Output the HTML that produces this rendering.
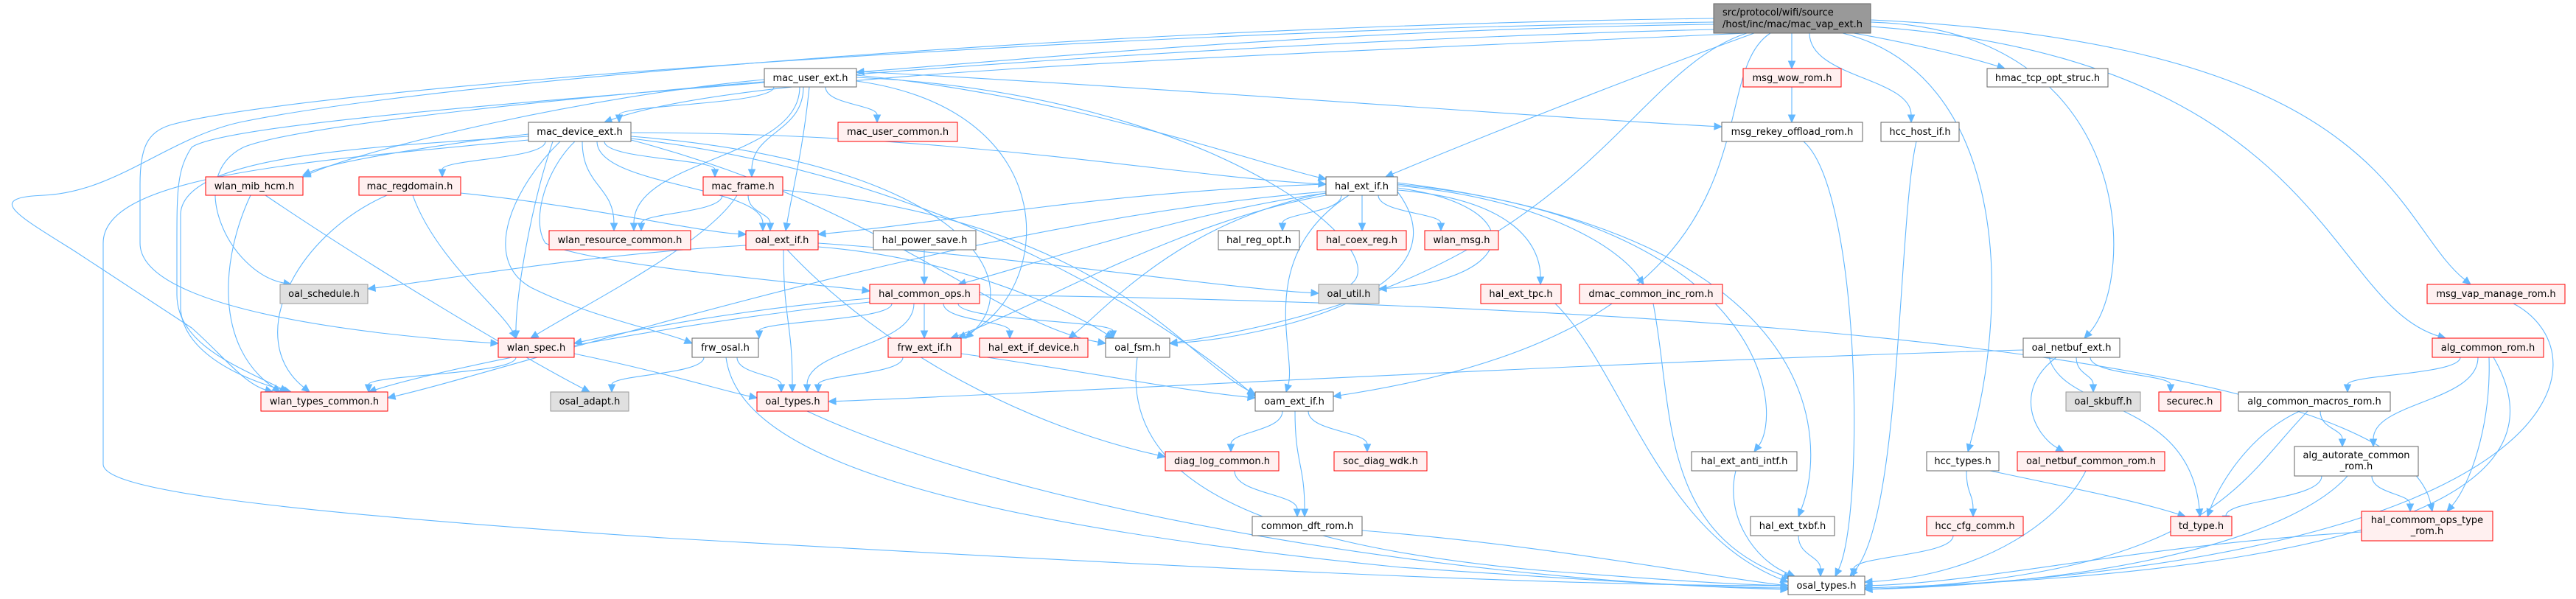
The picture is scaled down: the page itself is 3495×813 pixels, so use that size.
<!DOCTYPE html>
<html><head><meta charset="utf-8">
<style>
html,body{margin:0;padding:0;background:#fff;}
svg{display:block;}
text{font-family:"DejaVu Sans","Liberation Sans",sans-serif;font-size:13px;fill:#000;}
</style></head>
<body>
<svg id="s" width="3495" height="813" viewBox="0 0 3495 813" xmlns="http://www.w3.org/2000/svg">
<g id="edges" fill="none" stroke="#63b8ff" stroke-width="1.1"></g>
<g id="arrows" fill="#63b8ff" stroke="#63b8ff"></g>
<g id="nodes">
<rect x="2325" y="5" width="213" height="40" fill="#999" stroke="#666"/>
<text x="2337" y="21">src/protocol/wifi/source</text>
<text x="2337" y="37">/host/inc/mac/mac_vap_ext.h</text>

<rect x="1037" y="93" width="125" height="25" fill="#fff" stroke="#666"/><text x="1099.5" y="110" text-anchor="middle">mac_user_ext.h</text>
<rect x="2365" y="93" width="133" height="25" fill="#fff0f0" stroke="#f00"/><text x="2431.5" y="110" text-anchor="middle">msg_wow_rom.h</text>
<rect x="2696" y="93" width="164" height="25" fill="#fff" stroke="#666"/><text x="2778" y="110" text-anchor="middle">hmac_tcp_opt_struc.h</text>

<rect x="717" y="166" width="139" height="26" fill="#fff" stroke="#666"/><text x="786.5" y="183" text-anchor="middle">mac_device_ext.h</text>
<rect x="1137" y="166" width="162" height="26" fill="#fff0f0" stroke="#f00"/><text x="1218" y="183" text-anchor="middle">mac_user_common.h</text>
<rect x="2336" y="166" width="191" height="26" fill="#fff" stroke="#666"/><text x="2431.5" y="183" text-anchor="middle">msg_rekey_offload_rom.h</text>
<rect x="2552" y="166" width="106" height="26" fill="#fff" stroke="#666"/><text x="2605" y="183" text-anchor="middle">hcc_host_if.h</text>

<rect x="279" y="240" width="132" height="25" fill="#fff0f0" stroke="#f00"/><text x="345" y="257" text-anchor="middle">wlan_mib_hcm.h</text>
<rect x="487" y="240" width="138" height="25" fill="#fff0f0" stroke="#f00"/><text x="556" y="257" text-anchor="middle">mac_regdomain.h</text>
<rect x="954" y="240" width="108" height="25" fill="#fff0f0" stroke="#f00"/><text x="1008" y="257" text-anchor="middle">mac_frame.h</text>
<rect x="1799" y="240" width="97" height="25" fill="#fff" stroke="#666"/><text x="1847.5" y="257" text-anchor="middle">hal_ext_if.h</text>

<rect x="745" y="313" width="192" height="26" fill="#fff0f0" stroke="#f00"/><text x="841" y="330" text-anchor="middle">wlan_resource_common.h</text>
<rect x="1012" y="313" width="98" height="26" fill="#fff0f0" stroke="#f00"/><text x="1061" y="330" text-anchor="middle">oal_ext_if.h</text>
<rect x="1185" y="313" width="139" height="26" fill="#fff" stroke="#666"/><text x="1254.5" y="330" text-anchor="middle">hal_power_save.h</text>
<rect x="1653" y="313" width="110" height="26" fill="#fff" stroke="#666"/><text x="1708" y="330" text-anchor="middle">hal_reg_opt.h</text>
<rect x="1787" y="313" width="121" height="26" fill="#fff0f0" stroke="#f00"/><text x="1847.5" y="330" text-anchor="middle">hal_coex_reg.h</text>
<rect x="1933" y="313" width="100" height="26" fill="#fff0f0" stroke="#f00"/><text x="1983" y="330" text-anchor="middle">wlan_msg.h</text>

<rect x="380" y="386" width="119" height="26" fill="#e0e0e0" stroke="#999"/><text x="439.5" y="403" text-anchor="middle">oal_schedule.h</text>
<rect x="1180" y="386" width="149" height="26" fill="#fff0f0" stroke="#f00"/><text x="1254.5" y="403" text-anchor="middle">hal_common_ops.h</text>
<rect x="1789" y="386" width="82" height="26" fill="#e0e0e0" stroke="#999"/><text x="1830" y="403" text-anchor="middle">oal_util.h</text>
<rect x="2009" y="386" width="109" height="26" fill="#fff0f0" stroke="#f00"/><text x="2063.5" y="403" text-anchor="middle">hal_ext_tpc.h</text>
<rect x="2143" y="386" width="194" height="26" fill="#fff0f0" stroke="#f00"/><text x="2240" y="403" text-anchor="middle">dmac_common_inc_rom.h</text>
<rect x="3293" y="386" width="187" height="26" fill="#fff0f0" stroke="#f00"/><text x="3386.5" y="403" text-anchor="middle">msg_vap_manage_rom.h</text>

<rect x="676" y="459" width="103" height="26" fill="#fff0f0" stroke="#f00"/><text x="727.5" y="476" text-anchor="middle">wlan_spec.h</text>
<rect x="939" y="459" width="90" height="26" fill="#fff" stroke="#666"/><text x="984" y="476" text-anchor="middle">frw_osal.h</text>
<rect x="1205" y="459" width="99" height="26" fill="#fff0f0" stroke="#f00"/><text x="1254.5" y="476" text-anchor="middle">frw_ext_if.h</text>
<rect x="1329" y="459" width="147" height="26" fill="#fff0f0" stroke="#f00"/><text x="1402.5" y="476" text-anchor="middle">hal_ext_if_device.h</text>
<rect x="1500" y="459" width="87" height="26" fill="#fff" stroke="#666"/><text x="1543.5" y="476" text-anchor="middle">oal_fsm.h</text>
<rect x="2745" y="459" width="131" height="26" fill="#fff" stroke="#666"/><text x="2810.5" y="476" text-anchor="middle">oal_netbuf_ext.h</text>
<rect x="3300" y="459" width="151" height="26" fill="#fff0f0" stroke="#f00"/><text x="3375.5" y="476" text-anchor="middle">alg_common_rom.h</text>

<rect x="354" y="532" width="172" height="26" fill="#fff0f0" stroke="#f00"/><text x="440" y="549" text-anchor="middle">wlan_types_common.h</text>
<rect x="747" y="532" width="106" height="26" fill="#e0e0e0" stroke="#999"/><text x="800" y="549" text-anchor="middle">osal_adapt.h</text>
<rect x="1027" y="532" width="97" height="26" fill="#fff0f0" stroke="#f00"/><text x="1075.5" y="549" text-anchor="middle">oal_types.h</text>
<rect x="1703" y="532" width="106" height="26" fill="#fff" stroke="#666"/><text x="1756" y="549" text-anchor="middle">oam_ext_if.h</text>
<rect x="2803" y="532" width="101" height="26" fill="#e0e0e0" stroke="#999"/><text x="2853.5" y="549" text-anchor="middle">oal_skbuff.h</text>
<rect x="2929" y="532" width="84" height="26" fill="#fff0f0" stroke="#f00"/><text x="2971" y="549" text-anchor="middle">securec.h</text>
<rect x="3037" y="532" width="206" height="26" fill="#fff" stroke="#666"/><text x="3140" y="549" text-anchor="middle">alg_common_macros_rom.h</text>

<rect x="1581" y="613" width="154" height="26" fill="#fff0f0" stroke="#f00"/><text x="1658" y="630" text-anchor="middle">diag_log_common.h</text>
<rect x="1810" y="613" width="126" height="26" fill="#fff0f0" stroke="#f00"/><text x="1873" y="630" text-anchor="middle">soc_diag_wdk.h</text>
<rect x="2295" y="613" width="143" height="26" fill="#fff" stroke="#666"/><text x="2366.5" y="630" text-anchor="middle">hal_ext_anti_intf.h</text>
<rect x="2614" y="613" width="98" height="26" fill="#fff" stroke="#666"/><text x="2663" y="630" text-anchor="middle">hcc_types.h</text>
<rect x="2737" y="613" width="200" height="26" fill="#fff0f0" stroke="#f00"/><text x="2837" y="630" text-anchor="middle">oal_netbuf_common_rom.h</text>
<rect x="3113" y="606" width="168" height="40" fill="#fff" stroke="#666"/><text x="3197" y="622" text-anchor="middle">alg_autorate_common</text><text x="3197" y="637" text-anchor="middle">_rom.h</text>

<rect x="1699" y="701" width="149" height="26" fill="#fff" stroke="#666"/><text x="1773.5" y="718" text-anchor="middle">common_dft_rom.h</text>
<rect x="2375" y="701" width="114" height="26" fill="#fff" stroke="#666"/><text x="2432" y="718" text-anchor="middle">hal_ext_txbf.h</text>
<rect x="2614" y="701" width="131" height="26" fill="#fff0f0" stroke="#f00"/><text x="2679.5" y="718" text-anchor="middle">hcc_cfg_comm.h</text>
<rect x="2945" y="701" width="83" height="26" fill="#fff0f0" stroke="#f00"/><text x="2986.5" y="718" text-anchor="middle">td_type.h</text>
<rect x="3204" y="694" width="178" height="40" fill="#fff0f0" stroke="#f00"/><text x="3293" y="710" text-anchor="middle">hal_commom_ops_type</text><text x="3293" y="725" text-anchor="middle">_rom.h</text>

<rect x="2426" y="782" width="104" height="25" fill="#fff" stroke="#666"/><text x="2478" y="799" text-anchor="middle">osal_types.h</text>
</g>
</svg>
<script>
var NS="http://www.w3.org/2000/svg",EG=document.getElementById("edges"),AG=document.getElementById("arrows");
function arrow(x,y,fx,fy){var dx=x-fx,dy=y-fy,l=Math.hypot(dx,dy)||1;dx/=l;dy/=l;var L=10,W=4.5;
var bx=x-dx*L,by=y-dy*L;var p=document.createElementNS(NS,"polygon");
p.setAttribute("points",x+","+y+" "+(bx-dy*W)+","+(by+dx*W)+" "+(bx+dy*W)+","+(by-dx*W));AG.appendChild(p);return [bx,by];}
function P(d,x,y,fx,fy){var b=arrow(x,y,fx,fy);var p=document.createElementNS(NS,"path");p.setAttribute("d",d+" "+b[0]+","+b[1]);EG.appendChild(p);}
function e(x1,y1,x2,y2,c){var c1x,c1y,c2x,c2y;if(c){c1x=c[0];c1y=c[1];c2x=c[2];c2y=c[3];}else{var m=(y1+y2)/2;c1x=x1;c1y=m;c2x=x2;c2y=m;}
var dx=x2-c2x,dy=y2-c2y,l=Math.hypot(dx,dy)||1;var ex=x2-dx/l*10,ey=y2-dy/l*10;
var p=document.createElementNS(NS,"path");p.setAttribute("d","M"+x1+","+y1+" C"+c1x+","+c1y+" "+c2x+","+c2y+" "+ex+","+ey);EG.appendChild(p);arrow(x2,y2,c2x,c2y);}
// mac_vap_ext
e(2325,33,1162,98,[1800,40,1400,80]);
e(2370,45,820,166,[1600,80,1000,100]);
e(2431,45,2431,93);
e(2455,45,2593,166);
e(2515,45,2720,93,[2600,60,2680,80]);
e(2500,45,2670,613,[2720,100,2730,400]);
e(2538,30,2828,459,[2900,40,2900,380]);
e(2538,36,3318,459,[3155,80,3155,410]);
e(2538,27,3352,386,[3245,60,3245,300]);
e(2380,45,1880,240,[2200,110,2000,190]);
e(2402,45,1809,538,[2300,110,2450,440]);
e(2370,45,1587,466,[2200,100,2150,380]);
P("M2325,25 C1500,35 600,110 330,165 C230,185 160,260 60,265 C-20,268 20,290 100,340 L260,445 C300,480 330,520",370,532,330,520);
P("M2325,30 C1500,40 400,120 230,170 C200,180 190,200 190,250 L190,330 C190,420 500,455",676,466,500,455);
P("M2325,40 C1500,60 450,150 330,200 C250,240 310,370",395,386,310,370);
// mac_user_ext
e(1050,118,840,166);
e(1120,118,1190,166);
e(1090,118,1020,240);
e(1098,118,1066,313,[1090,200,1075,260]);
e(1085,118,860,313);
e(1162,110,1300,459,[1450,150,1430,400]);
e(1162,102,1799,243,[1450,130,1700,220]);
e(1162,97,2336,172,[1600,120,2100,160]);
e(1037,108,411,240,[800,130,500,200]);
e(1162,105,1789,395,[1700,130,1950,390]);
P("M1037,112 C700,140 300,170 260,200 C240,230 240,260 240,330 L240,400 C240,470 330,500",390,532,330,500);
// mac_device_ext
e(717,182,411,238,[600,195,450,220]);
e(740,192,600,240);
e(820,192,970,240);
e(790,192,833,313);
e(810,192,1035,313);
P("M780,192 C740,230 720,300 740,330 C800,360 1100,385",1180,395,1100,385);
P("M760,192 C700,250 650,350 720,390 C800,430 900,450",939,466,900,450);
e(750,192,700,459,[720,280,700,400]);
P("M717,185 C500,200 250,210 245,290 L245,420 C250,480 330,515",395,532,330,515);
P("M717,190 C400,220 140,240 140,330 L140,630 C140,660 300,690 900,730 C1600,770 2100,795",2426,795,2100,795);
e(856,180,1799,250,[1300,180,1600,240]);
e(856,185,1310,459,[1300,220,1400,380]);
e(856,188,1703,538,[1300,240,1600,450]);
e(856,190,1500,466,[1200,280,1350,440]);
// mac_frame
e(980,265,870,313);
e(1015,265,1045,313);
e(1000,265,720,459,[960,330,800,410]);
e(1062,258,1703,535,[1500,300,1600,480]);
// mac_regdomain
e(625,262,1012,318,[800,280,950,315]);
e(525,265,420,532,[400,320,330,460]);
e(560,265,700,459,[590,350,680,420]);
// wlan_mib_hcm
e(340,265,380,532,[300,350,290,470]);
e(360,265,800,532,[500,360,700,480]);
// oal_ext_if
e(1012,333,499,392,[800,345,600,380]);
e(1063,339,1075,532);
e(1110,330,1789,398,[1400,350,1650,390]);
e(1110,335,1510,459,[1300,350,1450,420]);
e(1068,339,1581,620,[1200,480,1400,580]);
// hal_power_save / hal_common_ops
e(1254,339,1254,386);
e(1180,405,779,466,[1000,420,850,450]);
e(1210,412,1030,459);
e(1254,412,1254,459);
e(1280,412,1370,459);
e(1240,412,1095,532);
e(1300,412,1510,459);
e(1180,410,500,532,[900,440,600,500]);
e(1329,400,3300,694,[2000,410,3250,450]);
// lower
e(955,485,830,532);
e(1000,485,1060,532);
P("M985,485 C1000,600 1200,700 1900,770 C2200,790 2300,797",2426,798,2300,797);
e(1225,485,1110,532);
e(1304,480,1703,540,[1450,500,1600,530]);
e(779,480,1027,540,[900,505,980,530]);
e(700,485,500,532);
e(1095,558,2426,800,[1400,700,2000,790]);
// hal_ext_if
e(1820,265,1740,313);
e(1848,265,1848,313);
e(1870,265,1955,313);
e(1799,250,1110,318,[1500,260,1300,300]);
e(1799,262,1300,386,[1600,290,1400,360]);
e(1896,255,1871,392,[2080,280,2060,380]);
e(1896,258,2090,386,[2050,270,2090,330]);
e(1896,252,2230,386,[2100,270,2200,340]);
e(1896,250,2380,613,[2400,300,2420,560]);
e(1896,248,2440,701,[2480,320,2480,600]);
e(1799,265,1290,459,[1600,300,1400,420]);
e(1799,262,1450,459,[1600,300,1500,420]);
e(1830,265,1745,532,[1700,350,1760,480]);
e(1799,260,526,540,[1300,300,700,500]);
e(1896,260,1587,466,[2000,400,1700,460]);
// oam
e(1740,558,1670,613);
e(1775,558,1855,613);
e(1757,558,1770,701);
e(1675,639,1760,701);
e(1848,720,2426,795,[2100,740,2300,780]);
P("M1543,485 C1520,650 1700,740 2100,775 C2300,790 2350,793",2426,795,2350,793);
e(2110,412,2426,790,[2200,500,2250,720]);
e(2243,412,2430,785,[2270,550,2250,720]);
e(2355,639,2435,782,[2340,700,2380,760]);
e(2440,727,2470,782);
e(2447,192,2490,782,[2525,260,2530,700]);
e(2600,192,2510,782,[2575,300,2580,700]);
e(2431,118,2431,166);
e(2668,639,2677,701);
e(2700,639,2965,701,[2800,660,2900,680]);
e(2650,727,2515,782);
// oal_netbuf_ext
e(2745,475,1124,545,[2200,490,1500,530]);
e(2817,485,2840,532);
e(2836,485,2945,532);
e(2790,485,2800,613,[2730,530,2760,590]);
e(2780,485,2985,701,[2800,560,2970,540]);
e(2830,639,2530,790,[2800,700,2700,780]);
// alg
e(3410,412,2530,800,[3540,480,3500,760]);
e(3338,485,3185,532);
e(3362,485,3220,606);
e(3377,485,3320,694,[3380,580,3350,660]);
e(3383,485,2530,798,[3450,600,3420,770]);
e(3120,558,2995,701,[3050,590,3010,660]);
e(3148,558,3178,606);
e(3131,558,2530,800,[3040,650,3000,780]);
e(3150,646,3020,710);
e(3218,646,3270,694);
e(3185,646,2530,800,[3120,720,2900,790]);
e(3204,722,2530,795,[2900,740,2700,790]);
</script>
</body></html>
